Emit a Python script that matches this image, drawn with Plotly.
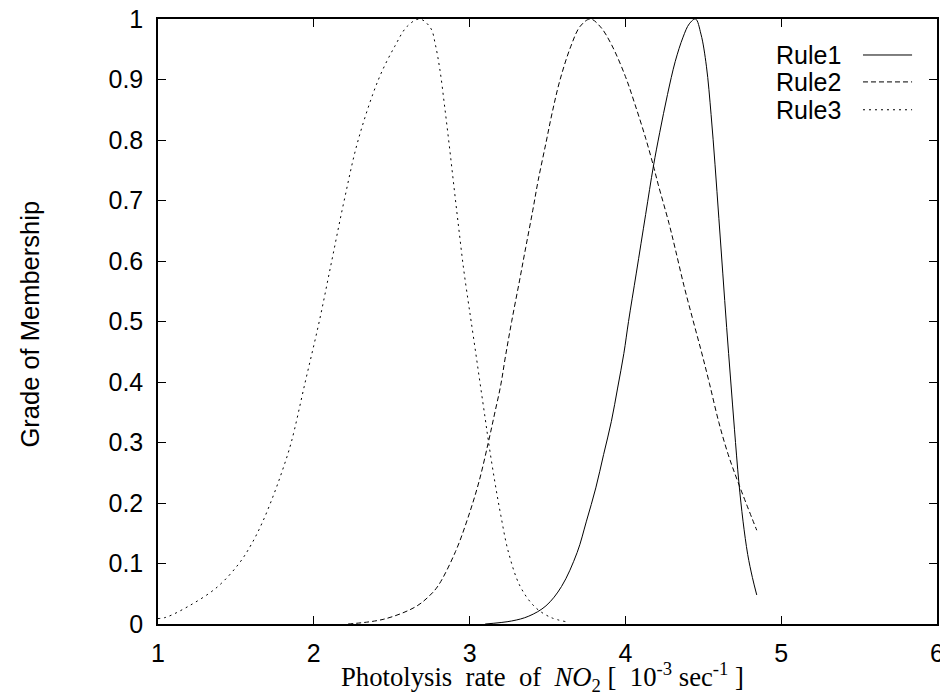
import plotly.graph_objects as go

# ---- data ----
rule1_x = [3.10, 3.27, 3.38, 3.49, 3.59, 3.69, 3.75, 3.81, 3.86, 3.91, 3.95, 3.99, 4.02,
           4.07, 4.13, 4.18, 4.22, 4.27, 4.32, 4.37, 4.41, 4.45, 4.485, 4.52, 4.55, 4.575,
           4.60, 4.625, 4.65, 4.675, 4.70, 4.728, 4.755, 4.785, 4.815, 4.843]
rule1_y = [0.000, 0.005, 0.013, 0.030, 0.062, 0.118, 0.170, 0.225, 0.280, 0.335, 0.390, 0.447, 0.500,
           0.580, 0.677, 0.757, 0.812, 0.875, 0.930, 0.970, 0.992, 1.000, 0.975, 0.922, 0.842, 0.760,
           0.670, 0.580, 0.490, 0.405, 0.322, 0.235, 0.170, 0.115, 0.077, 0.048]

rule2_x = [2.22, 2.45, 2.65, 2.74, 2.80, 2.91, 2.99, 3.06, 3.12, 3.16, 3.20, 3.23, 3.27, 3.32,
           3.36, 3.405, 3.44, 3.49, 3.53, 3.58, 3.65, 3.71, 3.775, 3.84, 3.91, 4.00, 4.06, 4.13,
           4.18, 4.21, 4.28, 4.32, 4.375, 4.433, 4.49, 4.54, 4.60, 4.66, 4.728, 4.843]
rule2_y = [0.000, 0.008, 0.028, 0.046, 0.064, 0.120, 0.176, 0.235, 0.300, 0.347, 0.395, 0.442, 0.500, 0.567,
           0.622, 0.683, 0.733, 0.795, 0.845, 0.899, 0.955, 0.988, 1.000, 0.987, 0.958, 0.905, 0.860, 0.803,
           0.757, 0.727, 0.662, 0.620, 0.560, 0.503, 0.448, 0.397, 0.333, 0.280, 0.231, 0.155]

rule3_x = [1.00, 1.05, 1.20, 1.38, 1.52, 1.60, 1.67, 1.74, 1.80, 1.855, 1.945, 2.035, 2.115, 2.195,
           2.285, 2.415, 2.52, 2.60, 2.68, 2.75, 2.78, 2.81, 2.84, 2.87, 2.90, 2.93, 2.96, 2.99,
           3.01, 3.04, 3.07, 3.10, 3.122, 3.16, 3.20, 3.25, 3.325, 3.42, 3.52, 3.615]
rule3_y = [0.009, 0.011, 0.030, 0.061, 0.100, 0.132, 0.168, 0.212, 0.255, 0.300, 0.400, 0.500, 0.600, 0.700,
           0.800, 0.900, 0.955, 0.988, 1.000, 0.985, 0.958, 0.915, 0.855, 0.790, 0.722, 0.655, 0.590, 0.535,
           0.500, 0.447, 0.393, 0.340, 0.300, 0.238, 0.180, 0.118, 0.062, 0.028, 0.011, 0.004]

series_names = ["Rule1", "Rule2", "Rule3"]
x_ticks = [1, 2, 3, 4, 5, 6]
y_ticks = [0, 0.1, 0.2, 0.3, 0.4, 0.5, 0.6, 0.7, 0.8, 0.9, 1]
y_tick_labels = ["0", "0.1", "0.2", "0.3", "0.4", "0.5", "0.6", "0.7", "0.8", "0.9", "1"]

series = [(rule1_x, rule1_y), (rule2_x, rule2_y), (rule3_x, rule3_y)]
dashes = ["solid", "5px,3px", "2px,4px"]

SANS = "Liberation Sans, Arial, sans-serif"
SERIF = "Liberation Serif, Times New Roman, serif"
NB = "\u00a0"

fig = go.Figure()
for (xs, ys), name, dash in zip(series, series_names, dashes):
    fig.add_trace(go.Scatter(x=xs, y=ys, mode="lines", name=name,
                             line=dict(color="black", width=1, dash=dash,
                                       shape="spline", smoothing=1.0),
                             showlegend=False, cliponaxis=True))

# gnuplot-style key: text right-aligned, sample line to the right
key_y = [0.9405, 0.896, 0.850]
for name, dash, ky in zip(series_names, dashes, key_y):
    fig.add_annotation(xref="paper", yref="paper", x=0.8793, y=ky, text=name,
                       showarrow=False, xanchor="right", yanchor="middle",
                       font=dict(family=SANS, size=25, color="black"))
    fig.add_shape(type="line", xref="paper", yref="paper", x0=0.905, x1=0.968,
                  y0=ky, y1=ky, line=dict(color="black", width=1, dash=dash))

# axis titles
x_title = ("Photolysis" + NB * 2 + "rate" + NB * 2 + "of" + NB * 2 + "<i>NO</i><sub>2</sub>" + NB
           + "[" + NB * 2 + "10<sup>-3</sup>" + NB + "sec<sup>-1</sup>" + NB + "]")
fig.add_annotation(xref="paper", yref="paper", x=0.4935, y=-0.088, text=x_title,
                   showarrow=False, xanchor="center", yanchor="middle",
                   font=dict(family=SERIF, size=26.7, color="black"))
fig.add_annotation(xref="paper", yref="paper", x=-0.1643, y=0.495, text="Grade of Membership",
                   showarrow=False, xanchor="center", yanchor="middle", textangle=-90,
                   font=dict(family=SANS, size=25.5, color="black"))

# the page body adds an 8px offset, so the figure is 8px smaller and margins shifted
fig.update_layout(
    width=940, height=690,
    margin=dict(l=150, r=11, t=11, b=73.5),
    paper_bgcolor="white", plot_bgcolor="white",
    font=dict(family=SANS, size=25, color="black"),
)
fig.update_xaxes(range=[1, 6], tickvals=x_ticks, ticktext=[str(v) for v in x_ticks],
                 ticks="inside", ticklen=8, tickwidth=1, tickcolor="black",
                 showline=True, linecolor="black", linewidth=1.5, mirror="ticks",
                 showgrid=False, zeroline=False, ticklabelstandoff=6, automargin=False,
                 ticklabeloverflow="allow", tickfont=dict(family=SANS, size=25))
fig.update_yaxes(range=[0, 1], tickvals=y_ticks, ticktext=y_tick_labels,
                 ticks="inside", ticklen=8, tickwidth=1, tickcolor="black",
                 showline=True, linecolor="black", linewidth=1.5, mirror="ticks",
                 showgrid=False, zeroline=False, ticklabelstandoff=8, automargin=False,
                 ticklabeloverflow="allow", tickfont=dict(family=SANS, size=25))

fig.write_html("out.html")
